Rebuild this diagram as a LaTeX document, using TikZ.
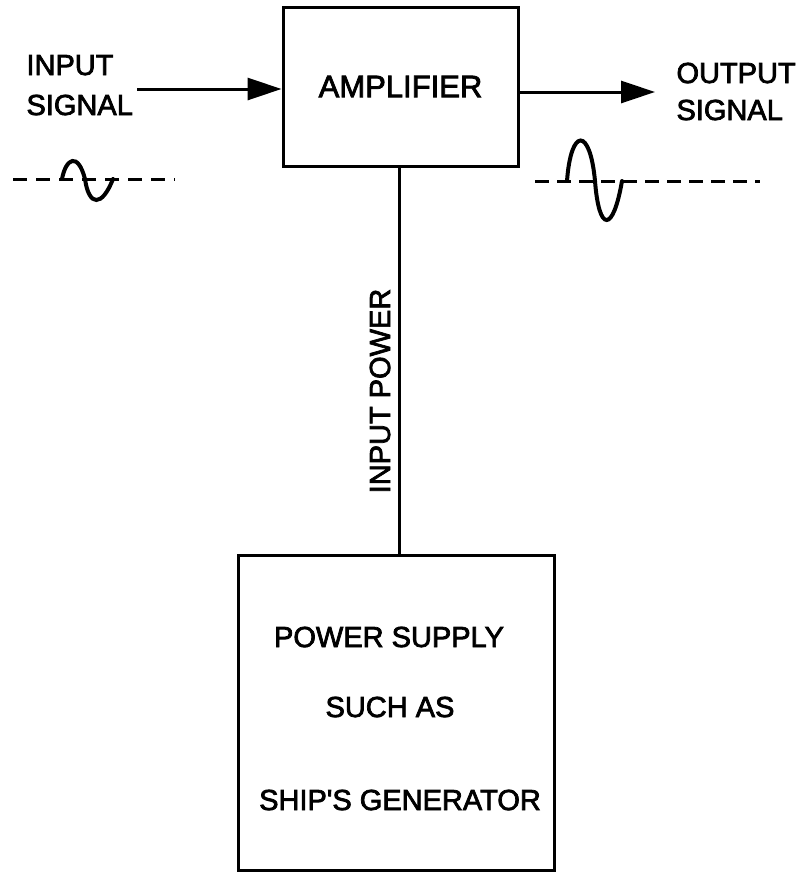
\documentclass[tikz,border=0pt]{standalone}
\usepackage{fontspec}
\setmainfont{Liberation Sans}[FakeBold=2.5]
\usetikzlibrary{arrows.meta}

\begin{document}
\begin{tikzpicture}[x=1pt, y=-1pt, line width=3pt, >={Triangle[length=34pt,width=22pt]},
  box/.style={draw, inner sep=0pt},
  lbl/.style={inner sep=0pt, font=\fontsize{29pt}{34pt}\selectfont},
  axisline/.style={dash pattern=on 14pt off 9pt},
  wave/.style={line width=4pt, line cap=round}]
\useasboundingbox (0,0) rectangle (805,873);
\node[box, minimum width=235pt, minimum height=159pt, font=\fontsize{31pt}{36pt}\selectfont] (amp) at (400.5,86.5) {AMPLIFIER};
\node[box, minimum width=316pt, minimum height=315pt] (psu) at (396,712.5) {};
\node[lbl, anchor=base] (psu1) at (389,647) {POWER SUPPLY};
\node[lbl, anchor=base] (psu2) at (390,717) {SUCH AS};
\node[lbl, anchor=base] (psu3) at (400,810) {SHIP\textquotesingle S GENERATOR};
% signal in and out
\coordinate (in1) at (137,89);
\coordinate (out1) at (655,92);
\draw[->] (in1) -- (in1 -| amp.west);
\draw[->] (amp.east |- out1) -- (out1);
\draw (amp.south -| 399,0) -- (psu.north -| 399,0);
\node[lbl, anchor=base west] (in2) at (25,75) {INPUT};
\node[lbl, anchor=base west] (in3) at (25,115) {SIGNAL};
\node[lbl, anchor=base west] (out2) at (675,83) {OUTPUT};
\node[lbl, anchor=base west] (out3) at (675,120) {SIGNAL};
\node[lbl, anchor=base, rotate=90] (pwr) at (390,391) {INPUT POWER};
% waveforms
\draw[axisline] (13,179) -- (175,179);
\draw[wave] (62,179) .. controls (66,158) and (78,152) .. (85,179)
  .. controls (89,207) and (102,207) .. (113,179);
\draw[axisline, dash pattern=on 14pt off 8pt] (535,181) -- (760,181);
\draw[wave] (567,181) .. controls (571,127) and (590,127) .. (595,181)
  .. controls (599,233) and (613,233) .. (622,181);
\end{tikzpicture}
\end{document}
